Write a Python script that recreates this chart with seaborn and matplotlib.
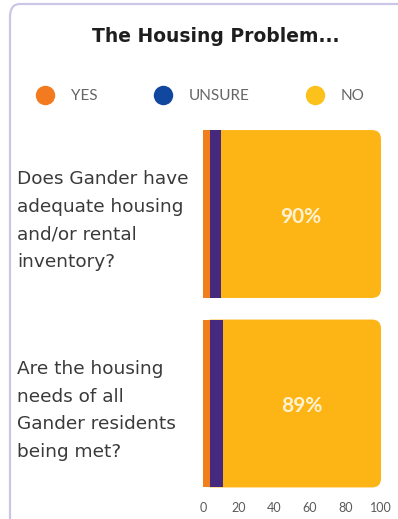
import matplotlib
matplotlib.use("Agg")
import matplotlib.pyplot as plt
from matplotlib.patches import FancyBboxPatch
from matplotlib.lines import Line2D
import seaborn as sns
import pandas as pd

# Survey questions and response shares (%)
questions = [
    "Does Gander have\nadequate housing\nand/or rental\ninventory?",
    "Are the housing\nneeds of all\nGander residents\nbeing met?",
]
yes = [4, 4]
unsure = [6, 7]
no = [90, 89]
x_ticks = [0, 20, 40, 60, 80, 100]

bar_yes = "#F07F1C"
bar_unsure = "#45297E"
bar_no = "#FDB515"
leg_colors = {"YES": "#F47A20", "UNSURE": "#12479F", "NO": "#FCC21B"}

sns.set_theme(style="white")
plt.rcParams["font.family"] = ["Lato", "DejaVu Sans"]

df = pd.DataFrame({"question": questions, "yes": yes, "unsure": unsure, "no": no})
df["cum_unsure"] = df["yes"] + df["unsure"]
df["cum_no"] = df["cum_unsure"] + df["no"]

W, H = 398, 519
fig = plt.figure(figsize=(W / 100, H / 100), dpi=100)
fig.patch.set_facecolor("white")

# card outline
card = FancyBboxPatch((10 / W, -20 / H), 420 / W, (H + 20 - 4) / H,
                      boxstyle="round,pad=0,rounding_size=0.025",
                      transform=fig.transFigure, facecolor="white",
                      edgecolor="#CAC7E6", lw=1.6, zorder=-10)
fig.patches.append(card)

ax = fig.add_axes([203 / W, 1 - 498.25 / H, 178 / W, (498.25 - 119.25) / H])
ax.set_facecolor("none")
ax.set_zorder(5)

bw = 0.886
sns.barplot(data=df, y="question", x="cum_no", color=bar_no, width=bw,
            orient="h", ax=ax, saturation=1, linewidth=0)
sns.barplot(data=df, y="question", x="cum_unsure", color=bar_unsure, width=bw,
            orient="h", ax=ax, saturation=1, linewidth=0)
sns.barplot(data=df, y="question", x="yes", color=bar_yes, width=bw,
            orient="h", ax=ax, saturation=1, linewidth=0)

ax.set_xlim(0, 100)
ax.set_ylim(1.5, -0.5)

# rounded ends for the full-length bars
px_per_x = 178 / 100
px_per_y = (498.25 - 119.25) / 2.0
radius_px = 9
rx = radius_px / px_per_x
ry = radius_px / px_per_y
for p in list(ax.containers[0]):
    x0, y0, w, h = p.get_x(), p.get_y(), p.get_width(), p.get_height()
    p.set_visible(False)
    rb = FancyBboxPatch((x0, y0), w, h,
                        boxstyle=f"round,pad=0,rounding_size={rx}",
                        mutation_aspect=ry / rx,
                        facecolor=bar_no, edgecolor="none", zorder=1)
    ax.add_patch(rb)
for c in ax.containers[1:]:
    for p in c:
        p.set_zorder(2)

# percentage labels centred on the NO segment
for i, q in enumerate(questions):
    start = df["cum_unsure"][i]
    ax.text(start + no[i] / 2, i + 0.015, f"{no[i]}%", ha="center", va="center",
            color="#FFF2D2", fontsize=15, fontweight="bold", zorder=3)

ax.set_xticks(x_ticks)
ax.set_xticklabels([str(t) for t in x_ticks])
ax.tick_params(axis="x", length=0, pad=3, labelsize=9, labelcolor="#5A5A5A")
ax.tick_params(axis="y", length=0, pad=134, labelsize=13.3, labelcolor="#3A3A3A")
for lab in ax.get_yticklabels():
    lab.set_horizontalalignment("left")
    lab.set_linespacing(1.68)
    lab.set_family(["DejaVu Sans"])
ax.set_xlabel("")
ax.set_ylabel("")
for s in ax.spines.values():
    s.set_visible(False)

fig.text(215.5 / W, 1 - 36 / H, "The Housing Problem...", ha="center",
         va="center", fontsize=13.5, fontweight="bold", color="#1E1E1E",
         family=["DejaVu Sans"])

handles = [Line2D([], [], marker="o", linestyle="none", markersize=14,
                  markerfacecolor=c, markeredgecolor="none")
           for c in leg_colors.values()]
fig.legend(handles, list(leg_colors.keys()), loc="center",
           bbox_to_anchor=(200 / W, 1 - 96 / H), ncol=3, frameon=False,
           fontsize=11, labelcolor="#666666", handlelength=1.3,
           handletextpad=1.05, columnspacing=3.6)

fig.savefig("out.png", dpi=100)
